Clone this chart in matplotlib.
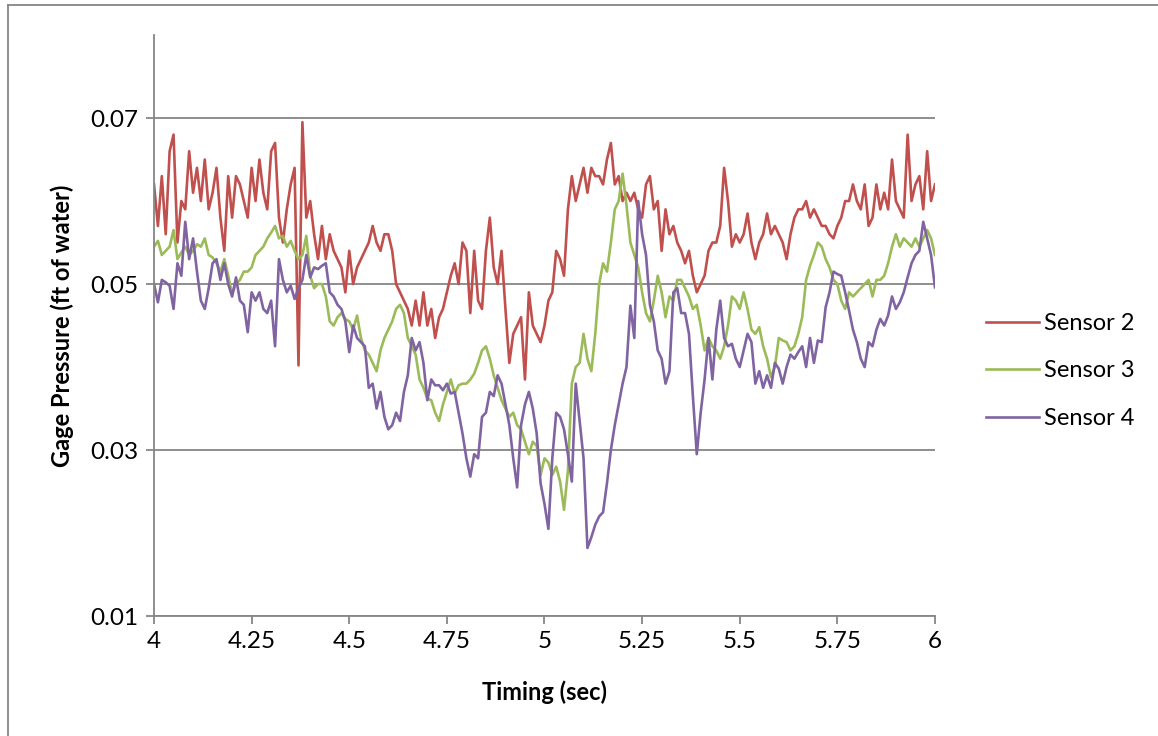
import numpy as np
import matplotlib
matplotlib.use('Agg')
import matplotlib.pyplot as plt
from matplotlib.lines import Line2D
from matplotlib.ticker import FuncFormatter

# time axis: one reading every 0.01 s from 4 to 6 s
timing = np.round(np.linspace(4.0, 6.0, 201), 2)

sensor2 = [
    0.062, 0.057, 0.063, 0.056, 0.066, 0.068, 0.055, 0.060, 0.059, 0.066,
    0.061, 0.064, 0.060, 0.065, 0.059, 0.061, 0.064, 0.058, 0.054, 0.063,
    0.058, 0.063, 0.062, 0.060, 0.058, 0.064, 0.060, 0.065, 0.061, 0.059,
    0.066, 0.067, 0.058, 0.055, 0.059, 0.062, 0.064, 0.0402, 0.0695, 0.058,
    0.060, 0.056, 0.053, 0.057, 0.053, 0.056, 0.054, 0.053, 0.052, 0.049,
    0.054, 0.050, 0.052, 0.053, 0.054, 0.055, 0.057, 0.055, 0.054, 0.056,
    0.056, 0.054, 0.050, 0.049, 0.048, 0.047, 0.045, 0.048, 0.045, 0.049,
    0.045, 0.047, 0.0435, 0.046, 0.047, 0.049, 0.051, 0.0525, 0.050, 0.055,
    0.054, 0.0465, 0.054, 0.048, 0.047, 0.054, 0.058, 0.052, 0.050, 0.054,
    0.047, 0.0405, 0.044, 0.045, 0.046, 0.0385, 0.049, 0.045, 0.044, 0.043,
    0.045, 0.048, 0.049, 0.054, 0.053, 0.051, 0.059, 0.063, 0.060, 0.062,
    0.064, 0.061, 0.064, 0.063, 0.063, 0.062, 0.065, 0.067, 0.062, 0.063,
    0.060, 0.061, 0.060, 0.061, 0.059, 0.058, 0.062, 0.063, 0.059, 0.060,
    0.054, 0.059, 0.056, 0.057, 0.055, 0.054, 0.0525, 0.054, 0.051, 0.049,
    0.050, 0.051, 0.054, 0.055, 0.055, 0.057, 0.064, 0.060, 0.0545, 0.056,
    0.055, 0.056, 0.0585, 0.055, 0.053, 0.055, 0.056, 0.0585, 0.056, 0.057,
    0.056, 0.055, 0.053, 0.056, 0.058, 0.059, 0.059, 0.060, 0.058, 0.059,
    0.058, 0.057, 0.057, 0.056, 0.0555, 0.057, 0.058, 0.060, 0.060, 0.062,
    0.060, 0.059, 0.062, 0.057, 0.058, 0.062, 0.059, 0.061, 0.059, 0.065,
    0.060, 0.059, 0.058, 0.068, 0.060, 0.062, 0.063, 0.059, 0.066, 0.060,
    0.062,
]

sensor3 = [
    0.0545, 0.0552, 0.0535, 0.054, 0.0545, 0.0565, 0.053, 0.0538, 0.0545, 0.0535,
    0.054, 0.0548, 0.0545, 0.0555, 0.0535, 0.0532, 0.0525, 0.0515, 0.053, 0.051,
    0.0488, 0.050, 0.0505, 0.0515, 0.0515, 0.052, 0.0535, 0.054, 0.0545, 0.0555,
    0.0562, 0.057, 0.0555, 0.0558, 0.0545, 0.0552, 0.054, 0.053, 0.0535, 0.0558,
    0.051, 0.0495, 0.050, 0.050, 0.0485, 0.0455, 0.045, 0.046, 0.0465, 0.0458,
    0.0455, 0.0445, 0.0462, 0.0435, 0.042, 0.0415, 0.0405, 0.0395, 0.042, 0.0435,
    0.0445, 0.0455, 0.047, 0.0475, 0.0465, 0.0435, 0.0425, 0.0415, 0.0385, 0.0375,
    0.0362, 0.036, 0.0345, 0.0335, 0.0355, 0.037, 0.0385, 0.0368, 0.0378, 0.038,
    0.038, 0.0385, 0.0392, 0.0405, 0.042, 0.0425, 0.041, 0.039, 0.0375, 0.036,
    0.035, 0.034, 0.0345, 0.033, 0.0325, 0.031, 0.0295, 0.031, 0.0305, 0.027,
    0.029, 0.0285, 0.027, 0.028, 0.0262, 0.0228, 0.0275, 0.038, 0.040, 0.0405,
    0.044, 0.041, 0.0395, 0.044, 0.050, 0.0525, 0.0515, 0.055, 0.059, 0.060,
    0.0633, 0.0595, 0.055, 0.0535, 0.052, 0.049, 0.0465, 0.0455, 0.048, 0.051,
    0.049, 0.046, 0.0485, 0.048, 0.0505, 0.0505, 0.0495, 0.0485, 0.047, 0.0475,
    0.045, 0.042, 0.0435, 0.0425, 0.042, 0.041, 0.0425, 0.045, 0.0485, 0.048,
    0.047, 0.049, 0.047, 0.0445, 0.044, 0.0448, 0.0425, 0.041, 0.0388, 0.040,
    0.0435, 0.0432, 0.043, 0.042, 0.0425, 0.044, 0.046, 0.0505, 0.0522, 0.0535,
    0.055, 0.0545, 0.053, 0.052, 0.0505, 0.050, 0.048, 0.047, 0.049, 0.0485,
    0.049, 0.0495, 0.050, 0.0505, 0.0485, 0.0505, 0.0505, 0.051, 0.0525, 0.0545,
    0.056, 0.0545, 0.0555, 0.055, 0.0545, 0.0555, 0.0545, 0.0555, 0.0565, 0.0555,
    0.0535,
]

sensor4 = [
    0.050, 0.0478, 0.0505, 0.0502, 0.0498, 0.047, 0.0525, 0.051, 0.0575, 0.053,
    0.0555, 0.0515, 0.048, 0.047, 0.0495, 0.0525, 0.053, 0.0505, 0.0525, 0.050,
    0.0485, 0.0508, 0.048, 0.0475, 0.0442, 0.049, 0.048, 0.049, 0.047, 0.0465,
    0.048, 0.0425, 0.053, 0.0505, 0.049, 0.0498, 0.0482, 0.0495, 0.0505, 0.0535,
    0.0508, 0.052, 0.0518, 0.0522, 0.0525, 0.049, 0.0485, 0.0475, 0.047, 0.0455,
    0.0418, 0.045, 0.0435, 0.043, 0.0425, 0.0375, 0.038, 0.035, 0.037, 0.034,
    0.0325, 0.033, 0.0345, 0.0335, 0.037, 0.039, 0.0435, 0.042, 0.043, 0.0405,
    0.036, 0.0385, 0.0378, 0.0378, 0.0372, 0.038, 0.0368, 0.037, 0.0345, 0.032,
    0.029, 0.0268, 0.0295, 0.029, 0.034, 0.0345, 0.037, 0.0365, 0.039, 0.038,
    0.0355, 0.033, 0.029, 0.0255, 0.033, 0.0355, 0.037, 0.035, 0.032, 0.026,
    0.0235, 0.0205, 0.029, 0.0345, 0.034, 0.0325, 0.0295, 0.0262, 0.038, 0.0335,
    0.029, 0.0182, 0.0195, 0.021, 0.022, 0.0225, 0.026, 0.030, 0.033, 0.0355,
    0.038, 0.040, 0.0474, 0.0435, 0.060, 0.056, 0.0535, 0.0475, 0.0455, 0.042,
    0.041, 0.038, 0.0395, 0.049, 0.0495, 0.0465, 0.0465, 0.044, 0.0365, 0.0295,
    0.0345, 0.0385, 0.0435, 0.0385, 0.0445, 0.048, 0.0435, 0.0425, 0.0428, 0.041,
    0.040, 0.042, 0.044, 0.043, 0.038, 0.0395, 0.0375, 0.039, 0.0375, 0.0405,
    0.0398, 0.038, 0.040, 0.0415, 0.041, 0.0418, 0.0425, 0.040, 0.0435, 0.0405,
    0.0432, 0.043, 0.0472, 0.049, 0.0515, 0.0512, 0.051, 0.049, 0.0468, 0.0445,
    0.043, 0.041, 0.040, 0.043, 0.0425, 0.0445, 0.0458, 0.045, 0.0462, 0.0485,
    0.047, 0.0478, 0.049, 0.0508, 0.0525, 0.0535, 0.054, 0.0575, 0.0555, 0.0535,
    0.0496,
]

series_names = ['Sensor 2', 'Sensor 3', 'Sensor 4']
series_colors = ['#C0504D', '#9BBB59', '#8064A2']
x_ticks = [4, 4.25, 4.5, 4.75, 5, 5.25, 5.5, 5.75, 6]
y_ticks = [0.01, 0.03, 0.05, 0.07]

plt.rcParams['font.family'] = ['Lato', 'DejaVu Sans']

fig = plt.figure(figsize=(11.58, 7.36), dpi=100)
ax = fig.add_axes([0.133, 0.163, 0.8074 - 0.133, 0.9524 - 0.163])

for values, name, color in zip([sensor2, sensor3, sensor4], series_names, series_colors):
    ax.plot(timing, values, color=color, linewidth=1.9, label=name)

ax.set_xlim(4, 6)
ax.set_ylim(0.01, 0.08)
ax.set_xticks(x_ticks)
ax.set_yticks(y_ticks)
ax.xaxis.set_major_formatter(FuncFormatter(lambda v, p: '%g' % v))
ax.yaxis.set_major_formatter(FuncFormatter(lambda v, p: '%g' % v))
ax.grid(axis='y', color='#868686', linewidth=1.3)
ax.set_axisbelow(True)

for side in ['top', 'right']:
    ax.spines[side].set_visible(False)
for side in ['left', 'bottom']:
    ax.spines[side].set_color('#868686')
    ax.spines[side].set_linewidth(1.3)
ax.tick_params(axis='both', direction='out', length=6, width=1.3, color='#868686',
               labelsize=17.5, pad=5)

ax.set_xlabel('Timing (sec)', fontsize=17, fontweight='bold', labelpad=20)
ax.set_ylabel('Gage Pressure (ft of water)', fontsize=17, fontweight='bold', labelpad=12)

fig.legend(loc='center left', bbox_to_anchor=(0.833, 0.496), frameon=False,
           fontsize=17, handlelength=2.25, labelspacing=1.12, handletextpad=0.2)

# chart area border (left and top edges visible)
fig.add_artist(Line2D([8 / 1158, 8 / 1158], [0, 1 - 5 / 736], color='#868686', linewidth=1.3))
fig.add_artist(Line2D([8 / 1158, 1], [1 - 5 / 736, 1 - 5 / 736], color='#868686', linewidth=1.3))

fig.savefig('out.png', dpi=100)
